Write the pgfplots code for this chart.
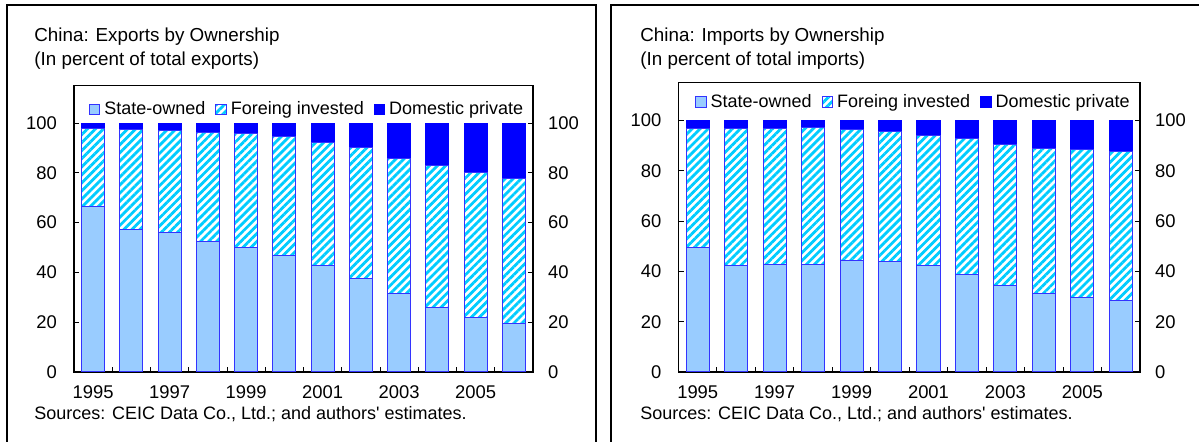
\documentclass[border=0pt]{standalone}
\usepackage{pgfplots}
\pgfplotsset{compat=1.18}
\usepackage{pgfplotstable}
\usetikzlibrary{patterns.meta}
\usepackage{fontspec}
\setmainfont{Liberation Sans}[Ligatures=TeXOff]
\definecolor{stateblue}{HTML}{99CCFF}
\definecolor{edgeblue}{HTML}{3333FF}
\definecolor{hatchcyan}{HTML}{00CCFF}
\definecolor{privblue}{HTML}{0000FF}

% year index, state-owned, foreign invested, domestic private
\pgfplotstableread{
x state foreign private
0 66.3 31.7 2.0
1 57.1 40.4 2.5
2 56.0 40.8 3.2
3 52.5 43.8 3.7
4 50.1 45.6 4.3
5 46.7 47.7 5.6
6 42.6 49.5 7.9
7 37.4 52.6 10.0
8 31.6 54.2 14.2
9 25.8 57.2 17.0
10 21.8 58.2 20.0
11 19.5 58.2 22.3
}\exports
\pgfplotstableread{
x state foreign private
0 49.6 47.3 3.1
1 42.2 54.7 3.1
2 42.7 54.2 3.1
3 42.7 54.3 3.0
4 44.4 52.0 3.6
5 43.9 51.7 4.4
6 42.2 51.8 6.0
7 38.8 54.2 7.0
8 34.3 56.3 9.4
9 31.2 57.7 11.1
10 29.6 58.8 11.6
11 28.5 59.2 12.3
}\imports

\pgfplotsset{
  panel/.style={
    scale only axis,
    anchor=south west,
    ybar stacked,
    bar width=0.6,
    xmin=-0.5, xmax=11.5,
    ymin=0, ymax=115,
    ytick={0,20,...,100},
    xtick={0,2,...,10},
    xticklabels={1995,1997,1999,2001,2003,2005},
    minor xtick={0.5,1.5,...,10.5},
    major x tick style={draw=none},
    tick align=inside,
    major tick length=2.5pt,
    minor tick length=2.5pt,
    xtick pos=bottom,
    ytick pos=both,
    yticklabel pos=left,
    axis line style={line width=0.6pt},
    every tick/.style={black, line width=0.5pt},
    /pgf/number format/assume math mode=true,
    tick label style={font=\fontsize{9.2}{10}\selectfont},
    yticklabel style={xshift=-5pt},
    xticklabel style={yshift=-3.3pt},
    legend style={draw=none, fill=none, font=\fontsize{9}{10}\selectfont,
      legend columns=3, /tikz/every even column/.append style={column sep=3pt}},
    legend cell align=left,
    area legend,
    legend image code/.code={\draw[#1] (0pt,-2.6pt) rectangle (5.2pt,2.6pt);},
  },
  rightlabels/.style={
    scale only axis,
    anchor=south west,
    xmin=-0.5, xmax=11.5,
    ymin=0, ymax=115,
    ytick={0,20,...,100},
    xtick=\empty,
    axis line style={draw=none},
    major tick length=0pt,
    yticklabel pos=right,
    /pgf/number format/assume math mode=true,
    tick label style={font=\fontsize{9.2}{10}\selectfont},
    yticklabel style={xshift=4pt},
  },
  st/.style={fill=stateblue, draw=edgeblue, line width=0.5pt},
  fo/.style={draw=edgeblue, line width=0.5pt, pattern={Lines[angle=45,distance=2.85pt,line width=1.4pt]}, pattern color=hatchcyan},
  pr/.style={fill=privblue, draw=privblue, line width=0.5pt},
}

\begin{document}
\begin{tikzpicture}
\useasboundingbox (0,0) rectangle (599.5pt,221pt);
% outer frames
\draw[line width=1pt] (3.5pt,-5pt) -- (3.5pt,218.5pt) -- (298pt,218.5pt) -- (298pt,-5pt);
\draw[line width=1pt] (305.5pt,-5pt) -- (305.5pt,218.5pt) -- (610pt,218.5pt);
% titles
\node[anchor=west, font=\fontsize{9.4}{10}\selectfont, inner sep=0pt] at (17pt,202.5pt) {China: Exports by Ownership};
\node[anchor=west, font=\fontsize{9.4}{10}\selectfont, inner sep=0pt] at (17pt,190.5pt) {(In percent of total exports)};
\node[anchor=west, font=\fontsize{9}{10}\selectfont, inner sep=0pt] at (17pt,14pt) {Sources: CEIC Data Co., Ltd.; and authors' estimates.};
\node[anchor=west, font=\fontsize{9.4}{10}\selectfont, inner sep=0pt] at (320pt,202.5pt) {China: Imports by Ownership};
\node[anchor=west, font=\fontsize{9.4}{10}\selectfont, inner sep=0pt] at (320pt,190.5pt) {(In percent of total imports)};
\node[anchor=west, font=\fontsize{9}{10}\selectfont, inner sep=0pt] at (320pt,14pt) {Sources: CEIC Data Co., Ltd.; and authors' estimates.};

% Exports panel
\begin{axis}[panel, at={(37pt,35pt)}, width=229.5pt, height=143.15pt,
  legend style={at={(0.51,0.975)}, anchor=north}]
\addplot[st] table[x=x,y=state] {\exports};
\addplot[fo] table[x=x,y=foreign] {\exports};
\addplot[pr] table[x=x,y=private] {\exports};
\legend{State-owned, Foreing invested, Domestic private}
\end{axis}
\begin{axis}[rightlabels, at={(37pt,35pt)}, width=229.5pt, height=143.15pt]
\addplot[draw=none] coordinates {(0,0)};
\end{axis}

% Imports panel
\begin{axis}[panel, at={(339.25pt,35pt)}, width=230.75pt, height=144.65pt,
  legend style={at={(1.0,0.99)}, anchor=north east}]
\addplot[st] table[x=x,y=state] {\imports};
\addplot[fo] table[x=x,y=foreign] {\imports};
\addplot[pr] table[x=x,y=private] {\imports};
\legend{State-owned, Foreing invested, Domestic private}
\end{axis}
\begin{axis}[rightlabels, at={(339.25pt,35pt)}, width=230.75pt, height=144.65pt]
\addplot[draw=none] coordinates {(0,0)};
\end{axis}
\end{tikzpicture}
\end{document}
